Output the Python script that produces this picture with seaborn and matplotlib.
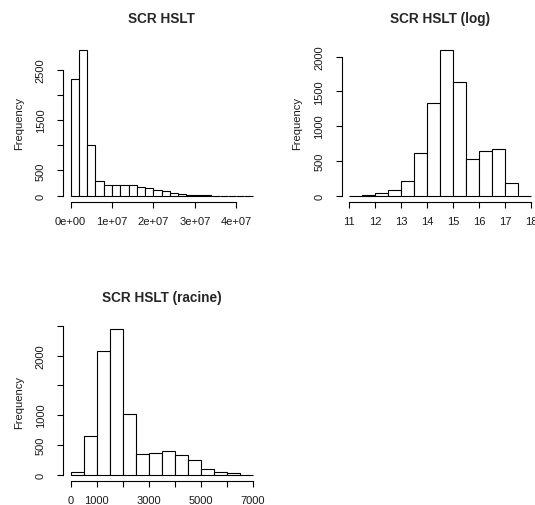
import numpy as np
import pandas as pd
import seaborn as sns
import matplotlib.pyplot as plt

sns.set_style("white")
plt.rcParams['font.family'] = ['Liberation Sans', 'DejaVu Sans']

# raw values, bins of 2e6
raw_edges = np.arange(0, 44e6 + 1, 2e6)
raw_counts = [2308, 2890, 1005, 284, 218, 215, 215, 218, 180, 145, 120, 93,
              60, 40, 20, 13, 10, 0, 0, 0, 0, 0]

# log values, bins of 0.5
log_edges = np.arange(11, 18.01, 0.5)
log_counts = [0, 10, 34, 77, 206, 609, 1329, 2096, 1640, 528, 643, 667, 177, 0]

# square root values, bins of 500
sqrt_edges = np.arange(0, 7001, 500)
sqrt_counts = [50, 644, 2078, 2454, 1020, 347, 358, 392, 325, 252, 90, 45, 22, 0]

W, H = 535, 506
fig = plt.figure(figsize=(W / 100, H / 100), dpi=100)


def make_ax(left, top, right, bottom):
    return fig.add_axes([left / W, 1 - bottom / H, (right - left) / W, (bottom - top) / H])


def r_hist(ax, edges, counts, title, xticks, xlabels, yticks, ylabels):
    df = pd.DataFrame({'x': (edges[:-1] + edges[1:]) / 2, 'n': counts})
    sns.histplot(data=df, x='x', weights='n', bins=list(edges), ax=ax, color='white',
                 edgecolor='black', linewidth=0.8, alpha=1)
    lo, hi = edges[0], edges[-1]
    r = hi - lo
    ax.set_xlim(lo - 0.04 * r, hi + 0.04 * r)
    top = max(counts)
    ax.set_ylim(-0.04 * top, 1.04 * top)
    for s in ['top', 'right']:
        ax.spines[s].set_visible(False)
    ax.spines['bottom'].set_bounds(xticks[0], xticks[-1])
    ax.spines['left'].set_bounds(yticks[0], yticks[-1])
    for s in ['bottom', 'left']:
        ax.spines[s].set_linewidth(0.8)
        ax.spines[s].set_color('black')
    ax.set_xticks(xticks)
    ax.set_xticklabels(xlabels)
    ax.set_yticks(yticks)
    ax.set_yticklabels(ylabels, rotation=90, va='center')
    ax.tick_params(axis='both', direction='out', length=4.3, width=0.8,
                   color='black', labelsize=8.0, labelcolor='#1a1a1a',
                   bottom=True, left=True)
    ax.tick_params(axis='x', pad=6.0)
    ax.tick_params(axis='y', pad=8.5)
    ax.set_xlabel('')
    ax.set_ylabel('Frequency', fontsize=8.0, labelpad=8.5, color='#1a1a1a')
    ax.set_title(title, fontsize=9.8, fontweight='bold', pad=16)


ax1 = make_ax(63.4, 45.2, 259.9, 202.5)
r_hist(ax1, raw_edges, raw_counts, 'SCR HSLT',
       [0, 1e7, 2e7, 3e7, 4e7], ['0e+00', '1e+07', '2e+07', '3e+07', '4e+07'],
       [0, 500, 1000, 1500, 2000, 2500], ['0', '500', '', '1500', '', '2500'])

ax2 = make_ax(342.0, 45.2, 538.6, 202.5)
r_hist(ax2, log_edges, log_counts, 'SCR HSLT (log)',
       list(range(11, 19)), [str(v) for v in range(11, 19)],
       [0, 500, 1000, 1500, 2000], ['0', '500', '1000', '1500', '2000'])

ax3 = make_ax(63.4, 323.8, 260.0, 481.5)
r_hist(ax3, sqrt_edges, sqrt_counts, 'SCR HSLT (racine)',
       list(range(0, 7001, 1000)), ['0', '1000', '', '3000', '', '5000', '', '7000'],
       [0, 500, 1000, 1500, 2000, 2500], ['0', '500', '1000', '', '2000', ''])

fig.savefig('out.png', dpi=100, facecolor='white')
